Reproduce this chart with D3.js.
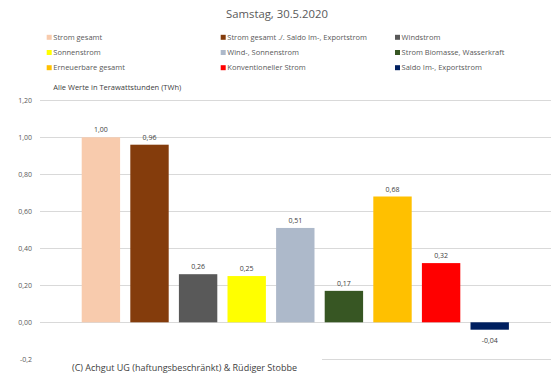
<!DOCTYPE html>
<html>
<head>
<meta charset="utf-8">
<script src="https://cdn.jsdelivr.net/npm/d3@7"></script>
<style>
body { margin: 0; background: #fff; }
text { font-family: "Open Sans", "Noto Sans", sans-serif; }
</style>
</head>
<body>
<script>
var width = 551, height = 382;

var categories = ["Strom gesamt", "Strom gesamt ./. Saldo Im-, Exportstrom", "Windstrom",
    "Sonnenstrom", "Wind-, Sonnenstrom", "Strom Biomasse, Wasserkraft",
    "Erneuerbare gesamt", "Konventioneller Strom", "Saldo Im-, Exportstrom"];
var values = [1.00, 0.96, 0.26, 0.25, 0.51, 0.17, 0.68, 0.32, -0.04];
var colors = ["#F8CBAD", "#843C0C", "#595959", "#FFFF00", "#ADB9CA", "#375623", "#FFC000", "#FF0000", "#002060"];
var yTicks = [-0.2, 0, 0.2, 0.4, 0.6, 0.8, 1.0, 1.2];
var yTickLabels = ["-0,2", "0,00", "0,20", "0,40", "0,60", "0,80", "1,00", "1,20"];

var fmt = function(v){ return v.toFixed(2).replace(".", ","); };

var svg = d3.select("body").append("svg")
    .attr("width", width).attr("height", height)
    .style("background", "#fff");

var y = d3.scaleLinear().domain([-0.2, 1.2]).range([359.3, 100.3]);
var x = d3.scaleBand().domain(categories).range([76.6, 514]).paddingInner(0.21).paddingOuter(0.105);

// title
svg.append("text").attr("x", 277).attr("y", 18).attr("text-anchor", "middle")
    .attr("fill", "#595959").style("font-size", "11.3px").text("Samstag, 30.5.2020");

// legend
var legPos = [[46.7, 53.3], [220.7, 227.3], [395, 401.3]];
var legend = svg.append("g").selectAll("g").data(categories).enter().append("g")
    .attr("transform", function(d, i){ return "translate(" + legPos[i % 3][0] + "," + (37.3 + Math.floor(i / 3) * 15.2) + ")"; });
legend.append("rect").attr("x", 0).attr("y", -2.5).attr("width", 5).attr("height", 5)
    .attr("fill", function(d, i){ return colors[i]; });
legend.append("text").attr("x", 6.6).attr("y", 2.7).attr("fill", "#595959")
    .style("font-size", "7.5px").text(function(d){ return d; });

svg.append("text").attr("x", 53.3).attr("y", 89.5).attr("fill", "#404040")
    .style("font-size", "7.5px").text("Alle Werte in Terawattstunden (TWh)");

// grid + y labels
var grid = svg.append("g");
grid.selectAll("line").data(yTicks).enter().append("line")
    .attr("x1", 40).attr("x2", 551)
    .attr("y1", function(d){ return Math.round(y(d)) + 0.5; })
    .attr("y2", function(d){ return Math.round(y(d)) + 0.5; })
    .attr("stroke", "#D9D9D9").attr("stroke-width", 1);
grid.selectAll("text").data(yTicks).enter().append("text")
    .attr("x", 32).attr("y", function(d){ return y(d) + 2.5; })
    .attr("text-anchor", "end").attr("fill", "#595959").style("font-size", "7px")
    .text(function(d, i){ return yTickLabels[i]; });

// bars
svg.append("g").selectAll("rect").data(values).enter().append("rect")
    .attr("x", function(d, i){ return x(categories[i]); })
    .attr("width", x.bandwidth())
    .attr("y", function(d){ return y(Math.max(0, d)); })
    .attr("height", function(d){ return Math.abs(y(d) - y(0)); })
    .attr("fill", function(d, i){ return colors[i]; });

// value labels
svg.append("g").selectAll("text").data(values).enter().append("text")
    .attr("x", function(d, i){ return x(categories[i]) + x.bandwidth() / 2; })
    .attr("y", function(d){ return d >= 0 ? y(d) - 5 : y(d) + 13; })
    .attr("text-anchor", "middle").attr("fill", "#404040").style("font-size", "7px")
    .text(function(d){ return fmt(d); });

// footer box over the lowest gridline
svg.append("rect").attr("x", 40).attr("y", 352).attr("width", 282).attr("height", 26).attr("fill", "#fff");
svg.append("text").attr("x", 72).attr("y", 370.5).attr("fill", "#404040")
    .style("font-size", "9px").text("(C) Achgut UG (haftungsbeschränkt) & Rüdiger Stobbe");
</script>
</body>
</html>
